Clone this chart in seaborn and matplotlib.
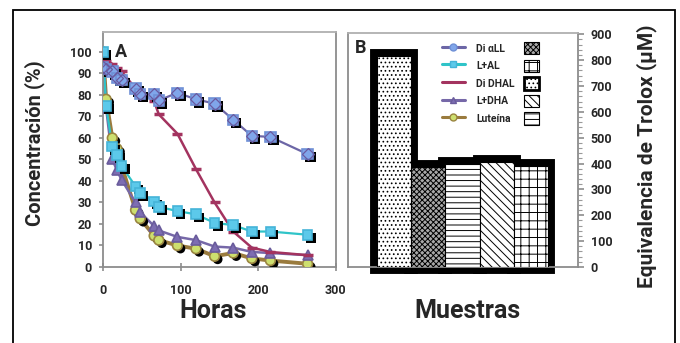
import matplotlib
matplotlib.use('Agg')
import matplotlib.pyplot as plt
import matplotlib.patheffects as pe
from matplotlib.lines import Line2D
from matplotlib.patches import Patch, Rectangle
from matplotlib.ticker import MultipleLocator
import seaborn as sns

# Panel A: concentracion (%) vs horas
horas = [0, 4, 12, 18, 24, 42, 48, 66, 72, 96, 120, 144, 168, 192, 216, 264]
di_all = [93, 92, 91, 88, 87, 83, 80.5, 80.5, 77.5, 81, 78, 76, 68.5, 61, 60.5, 52.5]
l_al = [100, 75, 56, 52, 47, 37.5, 34.5, 30.5, 28, 26, 24.5, 20.5, 19.5, 16.5, 16.5, 15]
di_dhal = [97, 96, 94.5, 92.5, 91, 83, 82, 77, 71, 62, 45.5, 30, 16.5, 9, 7, 5.5]
l_dha = [100, 74, 50, 45, 40.5, 30, 25.5, 19, 17, 14, 12.5, 9.5, 9, 7, 6.5, 5.5]
luteina = [100, 78, 60, 55, 47, 26.5, 22.5, 14.5, 12.5, 10, 8.5, 5, 6.5, 4, 3, 1.5]

# Panel B: equivalencia de Trolox
muestras = ['Di DHAL', 'Di αLL', 'Luteína', 'L+DHA', 'L+AL']
trolox = [815, 386, 399, 405, 392]

legend_order = ['Di αLL', 'L+AL', 'Di DHAL', 'L+DHA', 'Luteína']

sns.set_theme(style='white')
plt.rcParams['font.family'] = ['Roboto', 'DejaVu Sans']
plt.rcParams['hatch.linewidth'] = 0.7
W = 'bold'  # peso de letra

fig = plt.figure(figsize=(6.8, 3.43), dpi=100)
axA = fig.add_axes([103 / 680, 1 - 267 / 343, 232.5 / 680, 235 / 343])
axB = fig.add_axes([348 / 680, 1 - 267 / 343, 230 / 680, 234 / 343])

fig.add_artist(Rectangle((13 / 680, -0.02), 662 / 680, 333 / 343 + 0.02,
                         transform=fig.transFigure, fill=False, ec='black', lw=1.3))

shadow = [pe.SimplePatchShadow(offset=(2.2, -2.2), shadow_rgbFace='black', alpha=1), pe.Normal()]

# estilos: color linea, grosor, marcador, relleno, borde, tamano, sombra
estilos = {
    'Luteína': ('#9a7b3e', 2.8, 'o', '#cddf6f', '#9a8540', 7, True),
    'L+DHA': ('#7668a8', 1.8, '^', '#7d6db2', '#6a5c9c', 7.5, False),
    'Di DHAL': ('#a3335f', 1.8, '_', '#a3335f', '#a3335f', 7.5, False),
    'L+AL': ('#2fc4c8', 1.6, 's', '#5cc9ea', '#45b4d8', 7, True),
    'Di αLL': ('#6c66a6', 1.6, 's', '#80a6ea', '#6f90d6', 7.5, True),
}
valores = {'Di αLL': di_all, 'L+AL': l_al, 'Di DHAL': di_dhal, 'L+DHA': l_dha, 'Luteína': luteina}

for nombre in ['Luteína', 'L+DHA', 'Di DHAL', 'L+AL', 'Di αLL']:
    c, lw, m, fc, ec, s, sh = estilos[nombre]
    sns.lineplot(x=horas, y=valores[nombre], ax=axA, color=c, lw=lw, zorder=2)
    kw = dict(marker=m, markersize=s, markerfacecolor=fc, markeredgecolor=ec,
              markeredgewidth=1.2, linestyle='', zorder=3)
    if m == '_':
        kw['markeredgewidth'] = 2.5
        kw['markeredgecolor'] = c
    if sh:
        kw['path_effects'] = shadow
    sns.lineplot(x=horas, y=valores[nombre], ax=axA, color=c, **kw)
    if nombre == 'Di αLL':
        sns.lineplot(x=horas, y=valores[nombre], ax=axA, linestyle='', marker='D', markersize=6,
                     markerfacecolor='none', markeredgecolor='#6a5aa0', markeredgewidth=0.9, zorder=4)

axA.set_xlim(0, 300)
axA.set_ylim(0, 109.3)
axA.set_xticks([0, 100, 200, 300])
axA.set_yticks(range(0, 101, 10))
for sp in axA.spines.values():
    sp.set_color('#8c8c8c')
    sp.set_linewidth(1.3)
axA.spines['top'].set_color('#b0b0b0')
axA.tick_params(axis='x', direction='inout', length=6, width=1.2, color='#8c8c8c', pad=9, labelsize=9)
axA.tick_params(axis='y', direction='out', length=3, width=1.2, color='#8c8c8c', pad=5, labelsize=9)
axA.tick_params(bottom=True, left=True)
for lab in axA.get_xticklabels() + axA.get_yticklabels():
    lab.set_fontweight(W)
axA.set_xlabel('Horas', fontsize=18, fontweight=W)
axA.xaxis.set_label_coords(0.474, -0.135)
axA.set_ylabel('Concentración (%)', fontsize=14.5, fontweight=W)
axA.yaxis.set_label_coords(-0.25, 0.528)
axA.text(0.05, 0.955, 'A', transform=axA.transAxes, fontsize=13, fontweight=W, va='top')

# Panel B: barras con borde negro grueso debajo
sns.barplot(x=muestras, y=trolox, ax=axB, width=1.0, color='black', edgecolor='black',
            linewidth=10, saturation=1)
n_base = len(axB.patches)
for p in axB.patches:
    p.set_clip_on(False)
    p.set_joinstyle('miter')
    p.set_zorder(2)

tramas = {'Di DHAL': ('white', '....'), 'Di αLL': ('#a8a8a8', 'xxxxxx'), 'Luteína': ('white', '---'),
          'L+DHA': ('white', '\\\\\\\\'), 'L+AL': ('white', '++')}
sns.barplot(x=muestras, y=trolox, ax=axB, width=1.0, color='white', edgecolor='black',
            linewidth=0.8, saturation=1)
for p, nombre in zip(axB.patches[n_base:], muestras):
    fc, h = tramas[nombre]
    p.set_facecolor(fc)
    p.set_hatch(h)
    p.set_zorder(3)

axB.set_xlim(-1.35, 5.38)
axB.set_ylim(0, 905)
axB.set_xticks([])
axB.set_yticks(range(0, 901, 100))
axB.yaxis.set_minor_locator(MultipleLocator(20))
axB.yaxis.tick_right()
axB.yaxis.set_label_position('right')
for sp in axB.spines.values():
    sp.set_color('#8c8c8c')
    sp.set_linewidth(1.3)
axB.spines['top'].set_color('#b0b0b0')
axB.tick_params(axis='y', which='major', direction='out', length=4, width=1.2, color='#8c8c8c',
                pad=5, labelsize=9, right=True, left=False)
axB.tick_params(axis='y', which='minor', direction='out', length=3, width=0.8, color='#9a9a9a',
                right=True, left=False)
for lab in axB.get_yticklabels():
    lab.set_fontweight(W)
axB.set_xlabel('Muestras', fontsize=18, fontweight=W)
axB.xaxis.set_label_coords(0.52, -0.135)
axB.set_ylabel('Equivalencia de Trolox (μM)', fontsize=15, fontweight=W)
axB.yaxis.set_label_coords(1.252, 0.474)
axB.text(0.03, 0.975, 'B', transform=axB.transAxes, fontsize=13, fontweight=W, va='top', zorder=5)

# leyendas: lineas y tramas
line_handles = []
for nombre in legend_order:
    c, lw, m, fc, ec, s, sh = estilos[nombre]
    mk = {'Di αLL': 'o', 'L+AL': 's', 'Di DHAL': '', 'L+DHA': '^', 'Luteína': 'o'}[nombre]
    line_handles.append(Line2D([], [], color=c, lw=2.2, marker=mk, markersize=5,
                               markerfacecolor=fc, markeredgecolor=ec))
patch_handles = []
for nombre in legend_order:
    fc, h = tramas[nombre]
    patch_handles.append(Patch(facecolor=fc, edgecolor='black', hatch=h,
                               linewidth=2 if nombre == 'Di DHAL' else 0.8))

prop = dict(weight=W, size=7.5)
leg1 = axB.legend(line_handles, legend_order, loc='upper left', bbox_to_anchor=(442 / 680, 1 - 42 / 343),
                  bbox_transform=fig.transFigure, frameon=False, prop=prop, handlelength=2.2,
                  handleheight=1.45, labelspacing=0.5, borderpad=0, borderaxespad=0, handletextpad=1.1)
leg1.set_zorder(6)
axB.add_artist(leg1)
leg2 = axB.legend(patch_handles, [' '] * 5, loc='upper left', bbox_to_anchor=(524 / 680, 1 - 42 / 343),
                  bbox_transform=fig.transFigure, frameon=False, prop=prop, handlelength=1.45,
                  handleheight=1.45, labelspacing=0.5, borderpad=0, borderaxespad=0, handletextpad=0)
leg2.set_zorder(6)

fig.savefig('out.png', dpi=100)
